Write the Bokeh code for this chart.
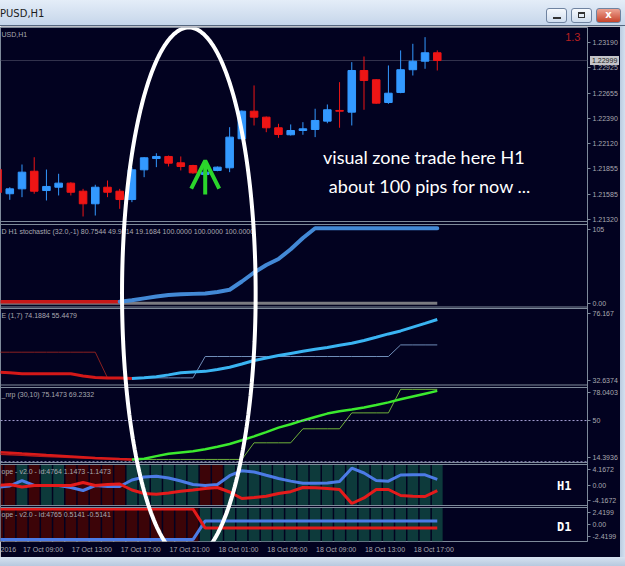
import math
from bokeh.plotting import figure
from bokeh.models import (Range1d, LinearAxis, FixedTicker, Span, Label, PolyAnnotation,
                          Arrow, OpenHead, Div, ColumnDataSource)
from bokeh.layouts import column, row
from bokeh.embed import file_html
from bokeh.resources import INLINE

# ---------------- data ----------------
bars = list(range(37))
candle_open = [1.21848, 1.21592, 1.21644, 1.21830, 1.21626, 1.21661, 1.21704, 1.21619, 1.21486, 1.21661,
               1.21619, 1.21531, 1.21845, 1.21964, 1.21986, 1.21919, 1.21890, 1.21795, 1.21838, 1.21866,
               1.22173, 1.22464, 1.22401, 1.22289, 1.22215, 1.22260, 1.22271, 1.22359, 1.22472, 1.22454,
               1.22894, 1.22796, 1.22556, 1.22662, 1.22902, 1.22992, 1.23081]
candle_high = [1.21869, 1.21661, 1.21901, 1.21978, 1.21848, 1.21803, 1.21714, 1.21644, 1.21687, 1.21732,
               1.21644, 1.21873, 1.21978, 1.22020, 1.21996, 1.21986, 1.21898, 1.21830, 1.21880, 1.22295,
               1.22472, 1.22736, 1.22408, 1.22331, 1.22324, 1.22348, 1.22490, 1.22535, 1.22771, 1.22982,
               1.23042, 1.22802, 1.22947, 1.23106, 1.23176, 1.23246, 1.23106]
candle_low = [1.21584, 1.21528, 1.21556, 1.21592, 1.21521, 1.21574, 1.21574, 1.21352, 1.21362, 1.21556,
              1.21433, 1.21503, 1.21767, 1.21873, 1.21880, 1.21838, 1.21803, 1.21785, 1.21830, 1.21820,
              1.22165, 1.22313, 1.22242, 1.22183, 1.22207, 1.22215, 1.22190, 1.22337, 1.22289, 1.22313,
              1.22479, 1.22542, 1.22542, 1.22654, 1.22841, 1.22912, 1.22894]
candle_close = [1.21605, 1.21644, 1.21820, 1.21619, 1.21669, 1.21704, 1.21608, 1.21486, 1.21661, 1.21608,
                1.21531, 1.21845, 1.21972, 1.21986, 1.21915, 1.21880, 1.21813, 1.21820, 1.21873, 1.22190,
                1.22464, 1.22401, 1.22289, 1.22218, 1.22260, 1.22278, 1.22366, 1.22479, 1.22464, 1.22894,
                1.22789, 1.22549, 1.22654, 1.22902, 1.22992, 1.23081, 1.22999]
price_ticks = [1.21320, 1.21585, 1.21855, 1.22120, 1.22390, 1.22655, 1.22925, 1.23190]

stoch_main = [2, 2, 2, 2, 2, 2, 2, 2, 2, 2, 2, 4, 6.5, 9, 11, 12, 12.5, 13, 15, 18, 29, 41, 51, 59, 72,
              87, 100, 100, 100, 100, 100, 100, 100, 100, 100, 100, 100]
stoch_base = [0] * 37
stoch_switch = 10

p3_thick = [40.0, 39.6, 39.1, 39.0, 39.0, 39.0, 39.0, 37.8, 36.9, 36.6, 36.6, 36.3, 36.7, 37.3, 38.4,
            39.6, 40.0, 40.4, 41.5, 42.7, 44.6, 46.6, 48.0, 49.4, 50.6, 51.8, 53.0, 54.0, 55.2, 56.4,
            58.0, 59.8, 61.7, 63.4, 65.6, 67.7, 69.9]
p3_thin = [51.3] * 9 + [36.7] * 8 + [48.85] * 16 + [55.45] * 4
p3_switch_thick = 11
p3_switch_thin = 9

p4_thick = [23.3, 22.7, 22.0, 21.4, 20.7, 20.1, 19.5, 18.9, 18.3, 17.8, 17.3, 17.0, 17.6, 19.8, 21.8,
            22.9, 24.0, 25.6, 27.8, 30.1, 33.3, 36.6, 40.2, 44.0, 46.9, 50.1, 53.0, 55.9, 57.9, 59.3,
            61.1, 63.2, 65.4, 68.0, 70.4, 72.8, 75.15]
p4_thin = [21.5, 21.0, 20.5, 20.0, 19.5, 19.0, 18.6, 18.2, 17.8, 17.5, 17.2] + [17.0] * 10 + \
          [31.1] * 4 + [43.0] * 4 + [56.5] * 4 + [76.5] * 4
p4_switch = 11
p4_levels = [50, 15]

h1_up = [-0.45, -0.2, 0.91, -0.1, -0.1, -0.1, -0.5, -1.12, -0.1, -0.3, -0.3, 1.02, 1.63, 1.77, 1.42,
         0.81, 0.1, -0.1, 0.1, 1.89, 2.91, 2.64, 1.97, 1.32, 0.79, 0.37, 0.37, 0.41, 0.71, 3.41, 2.44,
         0.91, 0.77, 2.03, 2.07, 2.07, 1.1473]
h1_dn = [-0.1, 0.1, -0.41, -0.1, -0.1, -0.1, -0.1, 0.51, -0.1, 0.1, 0.2, -1.02, -1.73, -1.87, -1.63,
         -1.28, -1.02, -0.71, -0.51, -1.42, -2.74, -2.54, -2.3, -1.73, -1.36, -0.51, -0.55, -0.71, -0.91,
         -3.76, -2.64, -0.91, -0.91, -2.13, -2.28, -2.34, -1.1473]
h1_state = list("rrtrttrrrrrttttttrr") + ["t"] * 18
d1_up = [-2.15] * 17 + [0.5141] * 20
d1_dn = [2.2] * 17 + [-0.5141] * 20
d1_state = ["r"] * 17 + ["t"] * 20

time_bars = [2, 6, 10, 14, 18, 22, 26, 30, 34]
time_labels = ["17 Oct 09:00", "17 Oct 13:00", "17 Oct 17:00", "17 Oct 21:00", "18 Oct 01:00",
               "18 Oct 05:00", "18 Oct 09:00", "18 Oct 13:00", "18 Oct 17:00"]
first_time_label = "2016"
current_price_text = "1.22999"

panel_titles = {
    "main": "USD,H1",
    "stoch": "D H1 stochastic (32.0,-1) 80.7544 49.9614 19.1684 100.0000 100.0000 100.0000",
    "p3": "E (1,7) 74.1884 55.4479",
    "p4": "_nrp  (30,10) 75.1473 69.2332",
    "h1": "ope - v2.0 - id:4764 1.1473 -1.1473",
    "d1": "ope - v2.0 - id:4765 0.5141 -0.5141",
}
scale_labels = [("stoch", 105, "105"), ("stoch", 0, "0.00"),
                ("p3", 76.167, "76.167"), ("p3", 32.6374, "32.6374"),
                ("p4", 78.0403, "78.0403"), ("p4", 50, "50"), ("p4", 14.3936, "14.3936"),
                ("h1", 4.1672, "4.1672"), ("h1", 0, "0.00"), ("h1", -4.1672, "-4.1672"),
                ("d1", 2.4199, "2.4199"), ("d1", 0, "0.00"), ("d1", -2.4199, "-2.4199")]

# ---------------- layout / style ----------------
BG = "#020220"
FRAME = "#7E8A9A"
TXT = "#A9A9B0"
BLUE_C = "#3399FF"
RED_C = "#EE1515"
FONT = "Liberation Sans"

TITLE_H = 26
FRAME_TOP, FRAME_BOT = 27, 541          # page pixels of the plot frame
FRAME_H = FRAME_BOT - FRAME_TOP
FRAME_RIGHT = 589
X0, X1 = 0.24, 48.3                      # visible bar window
panels = {
    "main": dict(top=27, bottom=221, lo=1.21299, hi=1.23348),
    "stoch": dict(top=224, bottom=306.5, lo=-5, hi=105),
    "p3": dict(top=308, bottom=384.5, lo=32.6374, hi=76.167),
    "p4": dict(top=387, bottom=462, lo=14.3936, hi=78.0403),
    "h1": dict(top=464, bottom=505, lo=-4.1672, hi=4.1672),
    "d1": dict(top=507, bottom=541, lo=-2.4199, hi=2.4199),
}


def canvas(py):
    return FRAME_BOT - py


def k_of(pn):
    d = panels[pn]
    return (d["hi"] - d["lo"]) / (d["bottom"] - d["top"])


def make_range(pn):
    d = panels[pn]
    k = k_of(pn)
    return Range1d(d["lo"] - (FRAME_BOT - d["bottom"]) * k, d["hi"] + (d["top"] - FRAME_TOP) * k)


def to_canvas(pn, v):
    d = panels[pn]
    return canvas(d["bottom"]) + (v - d["lo"]) / k_of(pn)


p = figure(width=620, height=531, x_range=Range1d(X0, X1), y_range=Range1d(0, FRAME_H),
           output_backend="svg", toolbar_location=None, x_axis_location=None, y_axis_location=None,
           min_border_left=0, min_border_right=31, min_border_top=1, min_border_bottom=16,
           background_fill_color=BG, border_fill_color=BG, outline_line_color=FRAME)
p.grid.grid_line_color = None
p.extra_y_ranges = {pn: make_range(pn) for pn in panels}

# right scale
INSET = 5
yt, yo = [], {}
for v in price_ticks:
    c = round(to_canvas("main", v), 2)
    yt.append(c)
    yo[c] = f"{v:.5f}"
for pn, v, txt in scale_labels:
    c = to_canvas(pn, v)
    if v == panels[pn]["hi"]:
        c -= INSET
    elif v == panels[pn]["lo"]:
        c += INSET
    c = round(c, 2)
    yt.append(c)
    yo[c] = txt
yax = LinearAxis(ticker=FixedTicker(ticks=yt, minor_ticks=[]), major_label_overrides=yo,
                 axis_line_color=None, major_tick_out=3, major_tick_in=0, major_tick_line_color=FRAME,
                 major_label_standoff=2, major_label_text_font_size="7px",
                 major_label_text_color=TXT, major_label_text_font=FONT)
p.add_layout(yax, "right")

# time scale (labels start at their bar, MT4 style)
LABEL_SHIFT = 1.72
xt, xo = [0.5], {0.5: first_time_label}
for b, t in zip(time_bars, time_labels):
    xt.append(b + LABEL_SHIFT)
    xo[b + LABEL_SHIFT] = t
xax = LinearAxis(ticker=FixedTicker(ticks=xt, minor_ticks=[]), major_label_overrides=xo,
                 axis_line_color=None, major_tick_out=0, major_tick_in=0, major_label_standoff=4,
                 major_label_text_font_size="7px", major_label_text_color=TXT,
                 major_label_text_font=FONT)
p.add_layout(xax, "below")

# histogram backgrounds of the slope panels
STATE_COL = {"r": "#3C0408", "t": "#0D3A3B"}
for pn, st in (("h1", h1_state), ("d1", d1_state)):
    d = panels[pn]
    p.vbar(x=bars, width=0.88, top=d["hi"], bottom=d["lo"], fill_color=[STATE_COL[s] for s in st],
           line_color=None, y_range_name=pn)

# current price line
p.add_layout(Span(location=candle_close[-1], dimension="width", y_range_name="main",
                  line_color="#34344E", line_width=1, level="underlay"))

# candles
src = ColumnDataSource(dict(
    x=bars, high=candle_high, low=candle_low,
    top=[max(o, c) for o, c in zip(candle_open, candle_close)],
    bottom=[min(o, c) for o, c in zip(candle_open, candle_close)],
    color=[BLUE_C if c >= o else RED_C for o, c in zip(candle_open, candle_close)]))
p.segment(x0="x", y0="low", x1="x", y1="high", line_color="color", line_width=1,
          y_range_name="main", source=src)
p.vbar(x="x", width=0.62, top="top", bottom="bottom", fill_color="color", line_color="color",
       y_range_name="main", source=src)

# stochastic panel
p.line(bars, stoch_base, line_color="#7A7A80", line_width=3, y_range_name="stoch")
s = stoch_switch
p.line(bars[:s + 1], stoch_main[:s + 1], line_color="#C81818", line_width=3.5, y_range_name="stoch")
p.line(bars[s:], stoch_main[s:], line_color="#4389D6", line_width=4, y_range_name="stoch",
       line_cap="round", line_join="round")

# panel 3
s = p3_switch_thin
p.line(bars[:s + 1], p3_thin[:s + 1], line_color="#8A2020", line_width=1, y_range_name="p3")
p.line(bars[s:], p3_thin[s:], line_color="#6F8DB8", line_width=1, y_range_name="p3")
s = p3_switch_thick
p.line(bars[:s + 1], p3_thick[:s + 1], line_color="#D41818", line_width=3, y_range_name="p3")
p.line(bars[s:], p3_thick[s:], line_color="#3AB4F2", line_width=3, y_range_name="p3")

# panel 4
for lv in p4_levels:
    p.add_layout(Span(location=lv, dimension="width", y_range_name="p4", line_color="#A8A2D6",
                      line_width=1, line_dash="2 2"))
s = p4_switch
p.line(bars[:s + 1], p4_thin[:s + 1], line_color="#B01818", line_width=1.5, y_range_name="p4")
p.line(bars[s:], p4_thin[s:], line_color="#6FB23A", line_width=1, y_range_name="p4")
p.line(bars[:s + 1], p4_thick[:s + 1], line_color="#D81A1A", line_width=2.5, y_range_name="p4")
p.line(bars[s:], p4_thick[s:], line_color="#3BEA2E", line_width=2.5, y_range_name="p4")

# slope panels
p.line(bars, h1_up, line_color="#4C7BE6", line_width=3, y_range_name="h1")
p.line(bars, h1_dn, line_color="#E41B1B", line_width=3, y_range_name="h1")
p.line(bars, d1_up, line_color="#4C7BE6", line_width=3, y_range_name="d1")
p.line(bars, d1_dn, line_color="#E41B1B", line_width=3, y_range_name="d1")

# panel separators
for pn, d in panels.items():
    for edge in (d["top"], d["bottom"]):
        if FRAME_TOP < edge < FRAME_BOT:
            p.add_layout(Span(location=canvas(edge), dimension="width", line_color=FRAME, line_width=1))

# panel titles
for pn, t in panel_titles.items():
    p.add_layout(Label(x=X0, x_offset=1, y=canvas(panels[pn]["top"]) - 7, text=t, text_font=FONT,
                       text_font_size="7px", text_color=TXT, text_baseline="middle"))

# right-hand tags
p.add_layout(Label(x=46.4, y=canvas(485), text="H1", text_font="DejaVu Sans Mono", text_font_style="bold",
                   text_font_size="12px", text_color="white", text_align="center", text_baseline="middle"))
p.add_layout(Label(x=46.4, y=canvas(526), text="D1", text_font="DejaVu Sans Mono", text_font_style="bold",
                   text_font_size="12px", text_color="white", text_align="center", text_baseline="middle"))
p.add_layout(Label(x=47.1, y=1.23243, y_range_name="main", text="1.3", text_font=FONT,
                   text_font_size="11px", text_color="#B82020", text_align="center", text_baseline="middle"))

# hand-drawn annotations
p.add_layout(Label(x=34.9, y=1.21975, y_range_name="main", text="visual zone trade here H1",
                   text_font="Lato", text_font_size="18px", text_color="white", text_align="center",
                   text_baseline="middle"))
p.add_layout(Label(x=35.4, y=1.21679, y_range_name="main", text="about 100 pips for now ...",
                   text_font="Lato", text_font_size="18px", text_color="white", text_align="center",
                   text_baseline="middle"))
GREEN = "#2BD62B"
p.add_layout(Arrow(end=OpenHead(size=28, line_color=GREEN, line_width=4), x_start=17, y_start=1.21584,
                   x_end=17, y_end=1.21943, line_color=GREEN, line_width=4, y_range_name="main"))

ELL_CX, ELL_RX = 15.66, 5.47      # bars
ELL_CY, ELL_RY = canvas(293), 266  # canvas px
ts = [2 * math.pi * i / 240 for i in range(240)]
p.add_layout(PolyAnnotation(xs=[ELL_CX + ELL_RX * math.cos(t) for t in ts],
                            ys=[ELL_CY + ELL_RY * math.sin(t) for t in ts],
                            fill_alpha=0, line_color="white", line_alpha=1.0, line_width=4))

# current-price tag on the price scale (HTML overlay, positioned from the price scale mapping)
tag_top = FRAME_BOT - to_canvas("main", candle_close[-1]) - 4.5
tag_html = (f'<span style="position:absolute;z-index:50;left:{FRAME_RIGHT + 1}px;top:{tag_top:.1f}px;'
            'background:#C4C4C8;color:#202020;font-family:\'Liberation Sans\',sans-serif;font-size:7px;'
            f'line-height:9px;padding:0 2px;">{current_price_text}</span>')

# window chrome
btn = ("position:absolute;top:8px;height:15px;border:1px solid #6f83a0;border-radius:3px;"
       "box-sizing:border-box;")
title_html = (
    f'<div style="position:relative;width:625px;height:{TITLE_H}px;overflow:visible;'
    'background:linear-gradient(#e4edf8,#c6d6ea);border-bottom:1px solid #55677f;box-sizing:border-box;'
    'font-family:Tahoma,\'DejaVu Sans\',sans-serif;font-size:10px;color:#1c1c1c;">'
    '<span style="position:absolute;left:0px;top:7px;">PUSD,H1</span>'
    f'<div style="{btn}left:546px;width:21px;background:linear-gradient(#f6f9fd,#d0ddee);">'
    '<div style="position:absolute;left:6px;top:8px;width:8px;height:2px;background:#333;"></div></div>'
    f'<div style="{btn}left:571px;width:21px;background:linear-gradient(#f6f9fd,#d0ddee);">'
    '<div style="position:absolute;left:6px;top:3px;width:7px;height:6px;border:1px solid #333;'
    'border-top-width:2px;"></div></div>'
    f'<div style="{btn}left:596px;width:25px;background:linear-gradient(#eda393,#c7442b);'
    'color:white;font-weight:bold;text-align:center;line-height:12px;font-size:10px;">x</div>'
    + tag_html +
    '</div>')
title_div = Div(text=title_html, width=625, height=TITLE_H, margin=0,
                styles={"overflow": "visible", "z-index": "50"})
right_div = Div(text="", width=5, height=531, margin=0,
                styles={"background": "linear-gradient(90deg,#b9cbe0,#d3e0ef)"})
bottom_div = Div(text="", width=625, height=9, margin=0,
                 styles={"background": "linear-gradient(#d6e2f0,#b7c9df)"})

layout = column(title_div, row(p, right_div, spacing=0), bottom_div, spacing=0)
open("out.html", "w").write(file_html(layout, INLINE))
